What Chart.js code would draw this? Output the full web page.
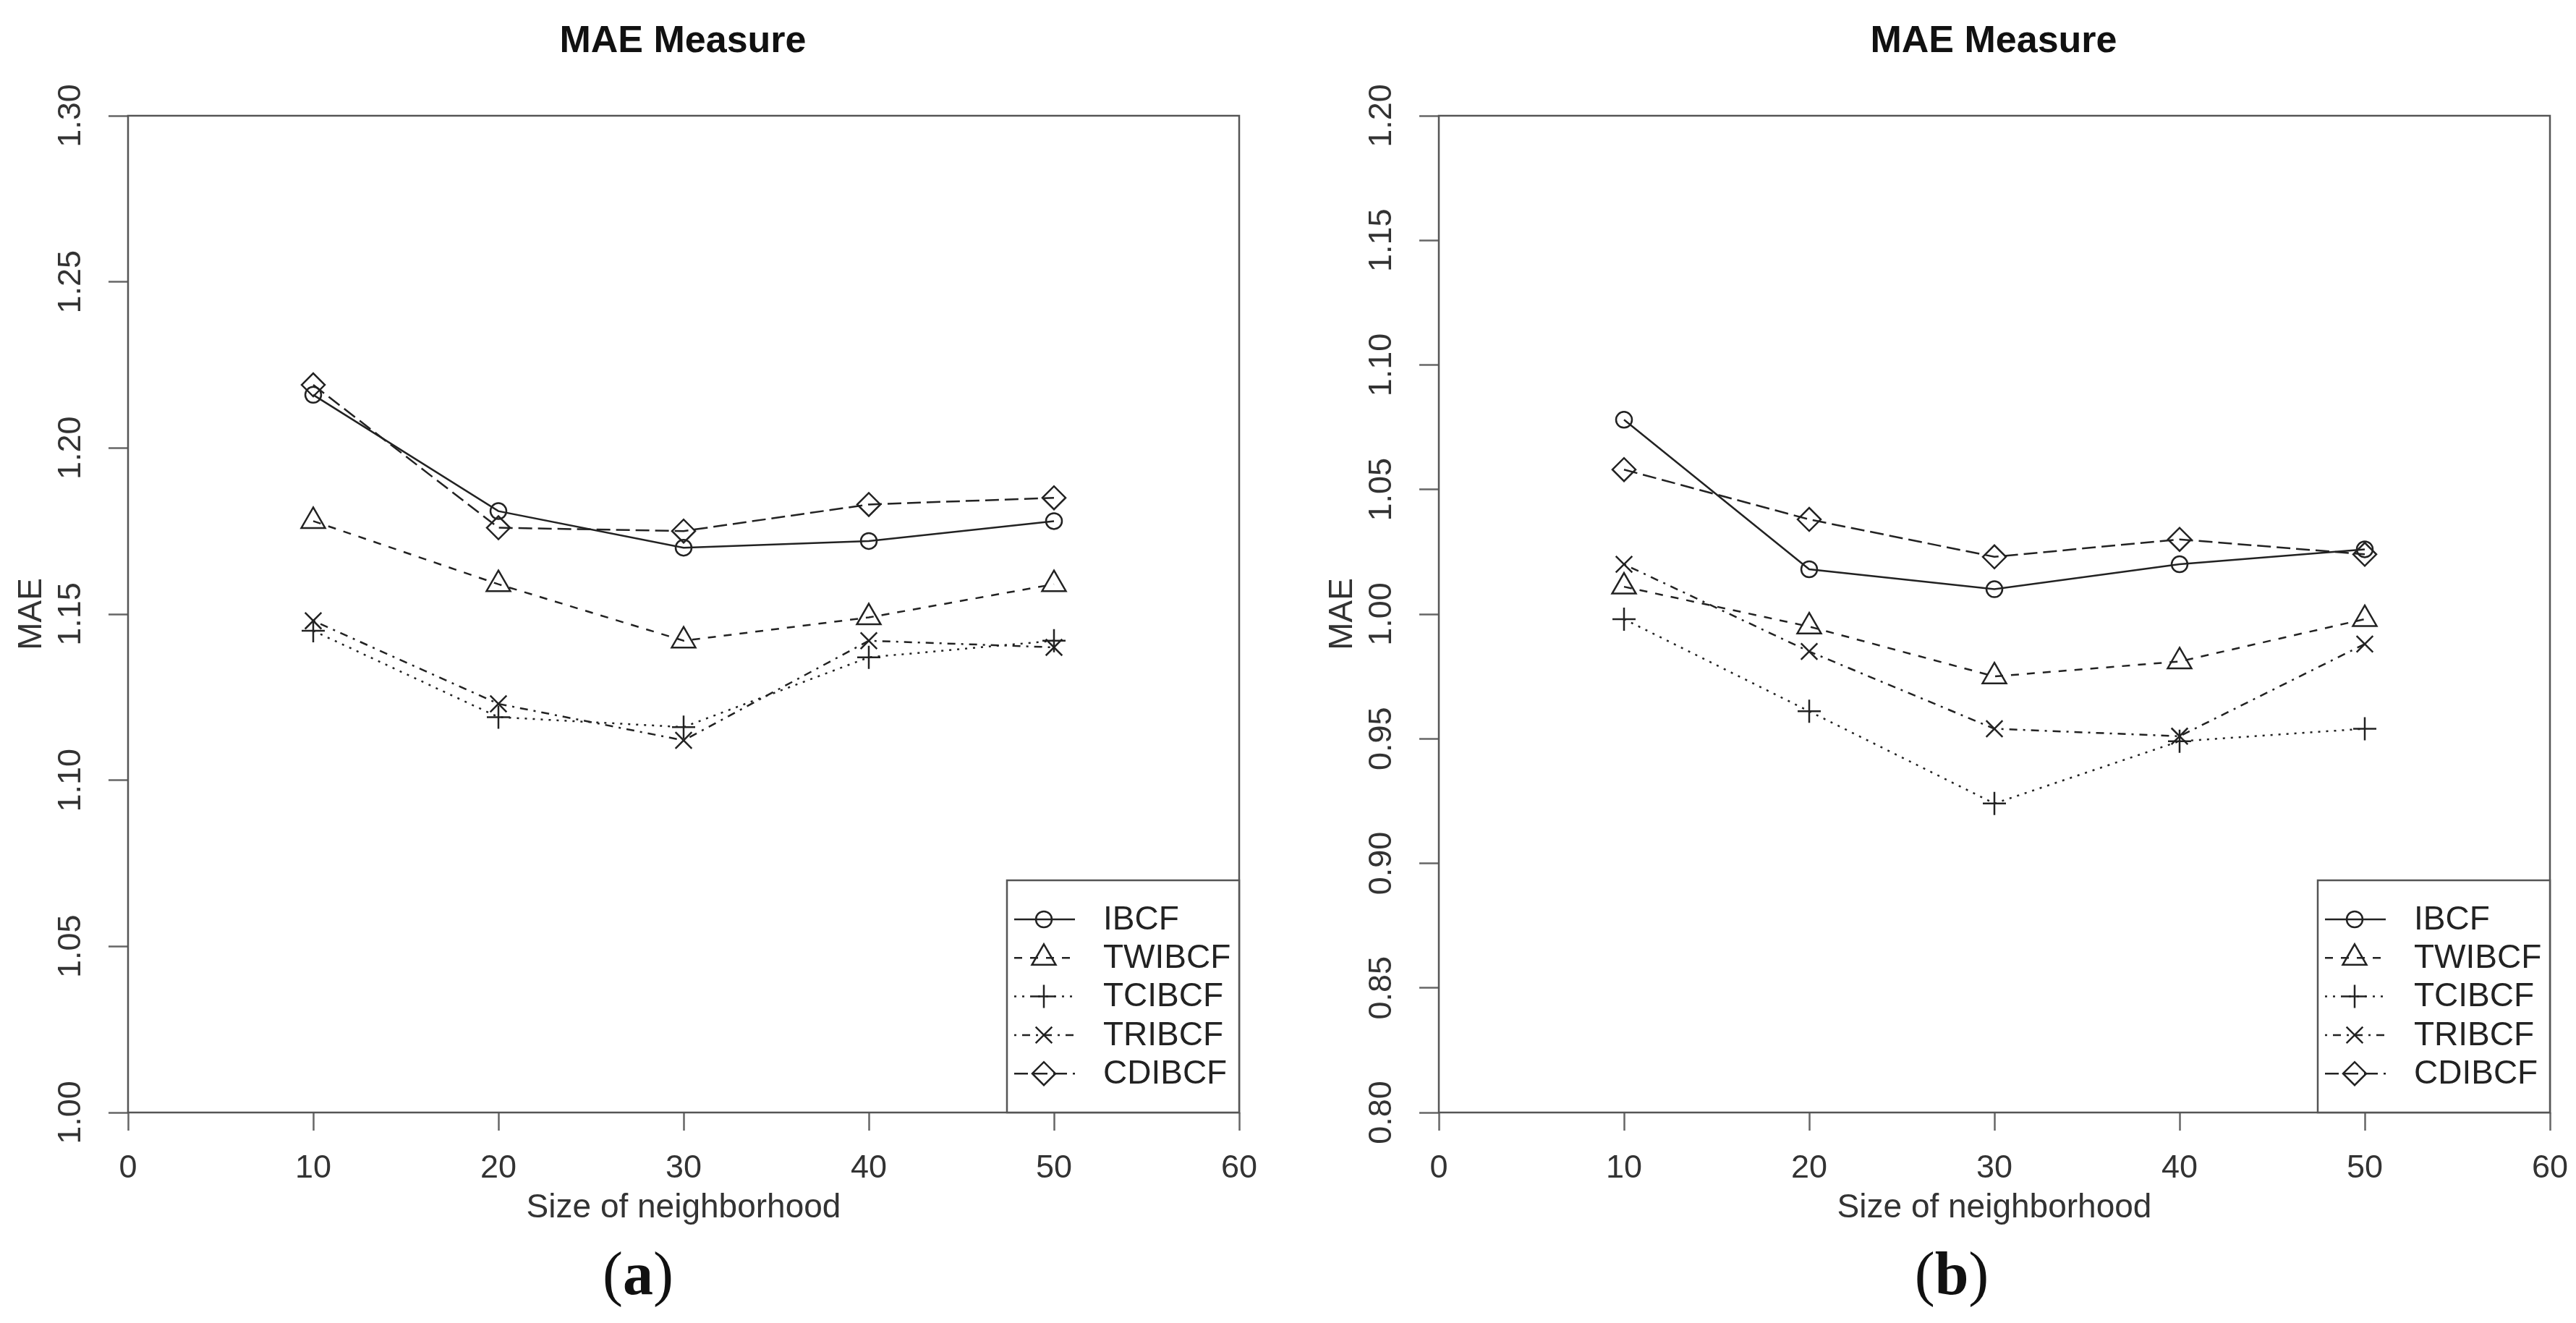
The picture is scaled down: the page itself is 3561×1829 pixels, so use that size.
<!DOCTYPE html>
<html>
<head>
<meta charset="utf-8">
<script src="https://cdn.jsdelivr.net/npm/chart.js@4.4.1/dist/chart.umd.min.js"></script>
<style>
  html, body { margin: 0; padding: 0; background: #fff; overflow: hidden; }
  body { width: 3561px; height: 1829px; position: relative; }
  canvas { position: absolute; top: 0; }
  .panel-label {
    position: absolute; top: 1719px; transform: translateX(-50%);
    font-family: "Liberation Serif", "Times New Roman", serif;
    font-size: 84px; line-height: 1; color: #111;
  }
</style>
</head>
<body>
<canvas id="graficoA" width="1888" height="1829" style="left:0px"></canvas>
<canvas id="graficoB" width="1888" height="1829" style="left:1812px"></canvas>
<div class="panel-label" style="left:882px">(<b>a</b>)</div>
<div class="panel-label" style="left:2698px">(<b>b</b>)</div>
<script>
// data
const seriesNames = ['IBCF', 'TWIBCF', 'TCIBCF', 'TRIBCF', 'CDIBCF'];
const neighborhood = [10, 20, 30, 40, 50];

const ibcfA   = [1.216, 1.181, 1.170, 1.172, 1.178];
const twibcfA = [1.178, 1.159, 1.142, 1.149, 1.159];
const tcibcfA = [1.145, 1.119, 1.116, 1.137, 1.142];
const tribcfA = [1.148, 1.123, 1.112, 1.142, 1.140];
const cdibcfA = [1.219, 1.176, 1.175, 1.183, 1.185];

const ibcfB   = [1.078, 1.018, 1.010, 1.020, 1.026];
const twibcfB = [1.011, 0.995, 0.975, 0.981, 0.998];
const tcibcfB = [0.998, 0.961, 0.924, 0.949, 0.954];
const tribcfB = [1.020, 0.985, 0.954, 0.951, 0.988];
const cdibcfB = [1.058, 1.038, 1.023, 1.030, 1.024];

const xTicks = [0, 10, 20, 30, 40, 50, 60];
const yTicksA = ['1.00', '1.05', '1.10', '1.15', '1.20', '1.25', '1.30'];
const yTicksB = ['0.80', '0.85', '0.90', '0.95', '1.00', '1.05', '1.10', '1.15', '1.20'];

// R-like line types and symbols
const styles = [
  { dash: [],             point: 'circle',   r: 11 },
  { dash: [11, 11],       point: 'triangle', r: 19 },
  { dash: [3, 8],         point: 'cross',    r: 16 },
  { dash: [3, 8, 11, 8],  point: 'crossRot', r: 16 },
  { dash: [19, 8],        point: 'rectRot',  r: 16 }
];

Chart.defaults.font.family = '"Liberation Sans", Arial, sans-serif';
Chart.defaults.color = '#333';

const INK = '#222';
const FRAME = '#555';

function makeDatasets(lists) {
  return lists.map((vals, i) => ({
    label: seriesNames[i],
    data: neighborhood.map((x, j) => ({ x: x, y: vals[j] })),
    borderColor: INK,
    borderWidth: 2.5,
    borderDash: styles[i].dash,
    pointStyle: styles[i].point,
    pointRadius: styles[i].r,
    pointBorderWidth: 2.5,
    pointBorderColor: INK,
    pointBackgroundColor: 'rgba(0,0,0,0)',
    showLine: true,
    tension: 0,
    fill: false
  }));
}

// frame around the plot and the boxed legend bottom right
const frameLegend = {
  id: 'frameLegend',
  afterDatasetsDraw(chart) {
    const ctx = chart.ctx;
    const a = chart.chartArea;
    ctx.save();
    ctx.strokeStyle = FRAME;
    ctx.lineWidth = 2.5;
    ctx.setLineDash([]);
    ctx.strokeRect(a.left, a.top, a.right - a.left, a.bottom - a.top);

    const w = 321, h = 321;
    const x0 = a.right - w, y0 = a.bottom - h;
    ctx.fillStyle = '#fff';
    ctx.fillRect(x0, y0, w, h);
    ctx.strokeRect(x0, y0, w, h);

    chart.data.datasets.forEach((ds, i) => {
      const y = y0 + 54 + i * 53.3;
      ctx.strokeStyle = INK;
      ctx.lineWidth = 2.5;
      ctx.setLineDash(ds.borderDash);
      ctx.beginPath();
      ctx.moveTo(x0 + 10, y);
      ctx.lineTo(x0 + 94, y);
      ctx.stroke();
      ctx.setLineDash([]);
      ctx.fillStyle = 'rgba(0,0,0,0)';
      Chart.helpers.drawPoint(ctx, {
        pointStyle: ds.pointStyle, radius: ds.pointRadius,
        borderWidth: 2.5, rotation: 0
      }, x0 + 51, y);
      ctx.fillStyle = '#222';
      ctx.font = '46px "Liberation Sans", Arial, sans-serif';
      ctx.textAlign = 'left';
      ctx.textBaseline = 'middle';
      ctx.fillText(ds.label, x0 + 133, y + 1);
    });
    ctx.restore();
  }
};

function makeChart(el, lists, yTicks) {
  const yMin = parseFloat(yTicks[0]);
  const yMax = parseFloat(yTicks[yTicks.length - 1]);
  return new Chart(el, {
    type: 'line',
    data: { datasets: makeDatasets(lists) },
    options: {
      responsive: false,
      devicePixelRatio: 1,
      animation: false,
      layout: { padding: { left: 0, right: 0, top: 0, bottom: 121 } },
      plugins: {
        legend: { display: false },
        tooltip: { enabled: false },
        title: {
          display: true,
          text: 'MAE Measure',
          color: '#111',
          font: { size: 52, weight: 'bold' },
          padding: { top: 26, bottom: 71.6 }
        }
      },
      scales: {
        x: {
          type: 'linear',
          position: 'bottom',
          min: 0,
          max: 60,
          afterBuildTicks: s => { s.ticks = xTicks.map(v => ({ value: v })); },
          afterFit: s => { s.height = 170; },
          border: { display: false },
          grid: { drawOnChartArea: false, drawTicks: true, tickLength: 25, tickWidth: 2.5, tickColor: '#666' },
          ticks: { font: { size: 45 }, padding: 26, maxRotation: 0, color: '#333' },
          title: { display: true, text: 'Size of neighborhood', font: { size: 46 }, padding: { top: 0, bottom: 10 }, color: '#333' }
        },
        y: {
          type: 'linear',
          position: 'left',
          min: yMin,
          max: yMax,
          afterBuildTicks: s => { s.ticks = yTicks.map(v => ({ value: parseFloat(v) })); },
          afterFit: s => { s.width = 177; },
          border: { display: false },
          grid: { drawOnChartArea: false, drawTicks: true, tickLength: 27, tickWidth: 2.5, tickColor: '#666' },
          ticks: {
            font: { size: 45 }, padding: 8, minRotation: 90, maxRotation: 90,
            crossAlign: 'center', color: '#333',
            callback: (v, i) => yTicks[i]
          },
          title: { display: true, text: 'MAE', font: { size: 46 }, padding: { top: 17, bottom: 0 }, color: '#333' }
        },
        spacer: {
          type: 'linear',
          position: 'right',
          display: true,
          afterFit: s => { s.width = 175; },
          border: { display: false },
          grid: { display: false },
          ticks: { display: false }
        }
      }
    },
    plugins: [frameLegend]
  });
}

makeChart(document.getElementById('graficoA'), [ibcfA, twibcfA, tcibcfA, tribcfA, cdibcfA], yTicksA);
makeChart(document.getElementById('graficoB'), [ibcfB, twibcfB, tcibcfB, tribcfB, cdibcfB], yTicksB);
</script>
</body>
</html>
